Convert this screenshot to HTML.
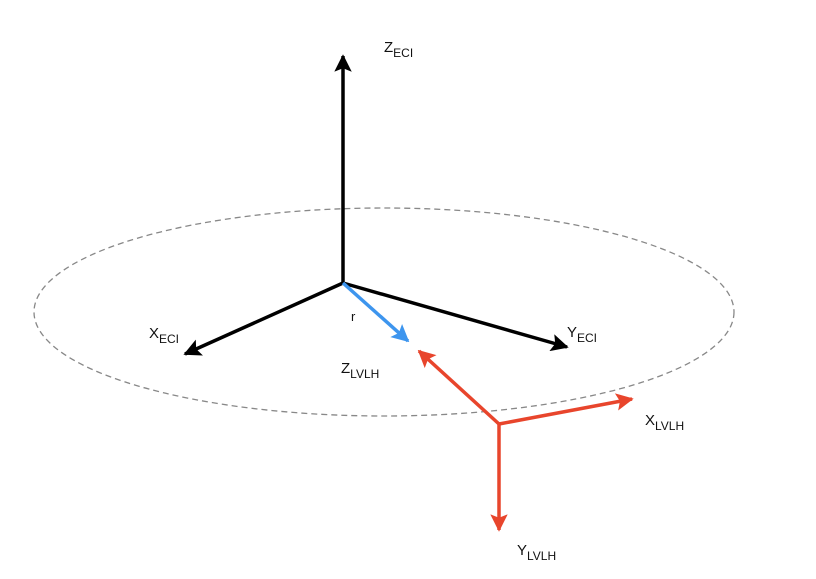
<!DOCTYPE html>
<html><head><meta charset="utf-8"><style>
html,body{margin:0;padding:0;background:#fff;}
svg{display:block;}
text{font-family:"Liberation Sans",Arial,sans-serif;font-size:15px;fill:#111;}
.sub{font-size:12px;}
</style></head><body>
<svg width="816" height="579" viewBox="0 0 816 579">
<defs>
<marker id="ak" viewBox="0 0 10 10" refX="9" refY="5" markerWidth="5" markerHeight="5" orient="auto" markerUnits="strokeWidth"><path d="M0,0 L10,5 L0,10 L2,5 z" fill="#000"/></marker>
<marker id="ab" viewBox="0 0 10 10" refX="9" refY="5" markerWidth="5" markerHeight="5" orient="auto" markerUnits="strokeWidth"><path d="M0,0 L10,5 L0,10 L2,5 z" fill="#3d95ee"/></marker>
<marker id="ar" viewBox="0 0 10 10" refX="9" refY="5" markerWidth="5" markerHeight="5" orient="auto" markerUnits="strokeWidth"><path d="M0,0 L10,5 L0,10 L2,5 z" fill="#e8452c"/></marker>
</defs>
<ellipse cx="384" cy="312" rx="350" ry="104" fill="none" stroke="#888" stroke-width="1.3" stroke-dasharray="6,4"/>
<g stroke="#000" stroke-width="3.5" fill="none">
<line x1="343" y1="283" x2="343" y2="56" marker-end="url(#ak)"/>
<line x1="343" y1="283" x2="185" y2="354" marker-end="url(#ak)"/>
<line x1="343" y1="283" x2="567" y2="347" marker-end="url(#ak)"/>
</g>
<line x1="343" y1="283" x2="408" y2="341" stroke="#3d95ee" stroke-width="3.5" marker-end="url(#ab)"/>
<g stroke="#e8452c" stroke-width="3.5" fill="none">
<line x1="499" y1="424" x2="419" y2="351" marker-end="url(#ar)"/>
<line x1="499" y1="424" x2="632" y2="399" marker-end="url(#ar)"/>
<line x1="499" y1="424" x2="499" y2="530" marker-end="url(#ar)"/>
</g>
<text x="384" y="52">Z<tspan class="sub" dy="5">ECI</tspan></text>
<text x="149" y="338">X<tspan class="sub" dy="5">ECI</tspan></text>
<text x="567" y="337">Y<tspan class="sub" dy="5">ECI</tspan></text>
<text x="351" y="321" style="font-size:13px">r</text>
<text x="341" y="373">Z<tspan class="sub" dy="5">LVLH</tspan></text>
<text x="645" y="425">X<tspan class="sub" dy="5">LVLH</tspan></text>
<text x="517" y="555">Y<tspan class="sub" dy="5">LVLH</tspan></text>
</svg>
</body></html>
